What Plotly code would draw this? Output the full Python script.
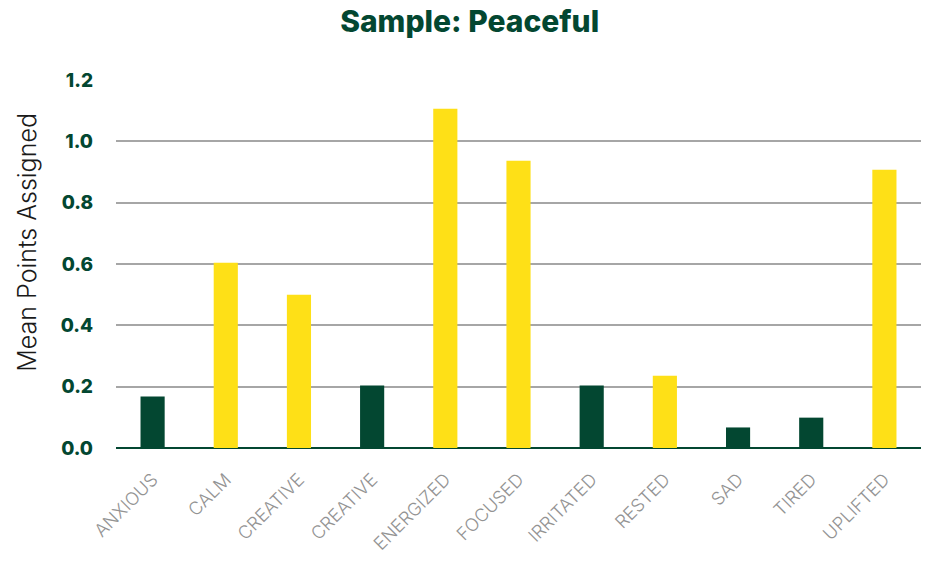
import plotly.graph_objects as go

categories = ["ANXIOUS", "CALM", "CREATIVE", "CREATIVE", "ENERGIZED", "FOCUSED",
              "IRRITATED", "RESTED", "SAD", "TIRED", "UPLIFTED"]
mean_points = [0.168, 0.604, 0.500, 0.204, 1.106, 0.937, 0.204, 0.236, 0.067, 0.099, 0.907]
positive = [False, True, True, False, True, True, False, True, False, False, True]
y_ticks = [0, 0.2, 0.4, 0.6, 0.8, 1.0, 1.2]
y_tick_labels = ["0.0", "0.2", "0.4", "0.6", "0.8", "1.0", "1.2"]

DARK_GREEN = "#034731"
YELLOW = "#FEE017"

positions = list(range(len(categories)))
colors = [YELLOW if p else DARK_GREEN for p in positive]

fig = go.Figure(
    go.Bar(
        x=positions,
        y=mean_points,
        marker=dict(color=colors, line=dict(width=0)),
        width=0.33,
        hoverinfo="skip",
    )
)

fig.update_layout(
    width=930,
    height=562,
    margin=dict(l=116, r=9, t=80, b=114),
    paper_bgcolor="white",
    plot_bgcolor="white",
    showlegend=False,
    title=dict(
        text="Sample: Peaceful",
        x=0.505,
        xanchor="center",
        y=0.962,
        yanchor="middle",
        font=dict(family="Inter", size=30, color=DARK_GREEN, weight=800),
    ),
    annotations=[
        dict(
            text="Mean Points Assigned",
            textangle=-90,
            xref="paper", yref="paper",
            x=-0.111, y=0.5,
            xanchor="center", yanchor="middle",
            yshift=22,
            showarrow=False,
            font=dict(family="Inter", size=25, color="#1a1a1a", weight=300),
        )
    ],
)

fig.update_xaxes(
    tickmode="array",
    tickvals=positions,
    ticktext=categories,
    tickangle=-45,
    tickfont=dict(family="Inter", size=18, color="#939393", weight=300),
    ticks="outside",
    ticklen=13,
    tickcolor="rgba(0,0,0,0)",
    range=[-0.5, len(categories) - 0.5],
    showgrid=False,
    showline=False,
    zeroline=False,
    automargin=False,
)

fig.update_yaxes(
    range=[0, 1.2],
    tickmode="array",
    tickvals=y_ticks,
    ticktext=y_tick_labels,
    tickfont=dict(family="Inter", size=19, color=DARK_GREEN, weight=800),
    ticklabelstandoff=22,
    showgrid=True,
    gridcolor="#a6a6a6",
    gridwidth=1.5,
    zeroline=True,
    zerolinecolor=DARK_GREEN,
    zerolinewidth=2,
    showline=False,
    ticks="",
    automargin=False,
)

fig.write_html("out.html")
